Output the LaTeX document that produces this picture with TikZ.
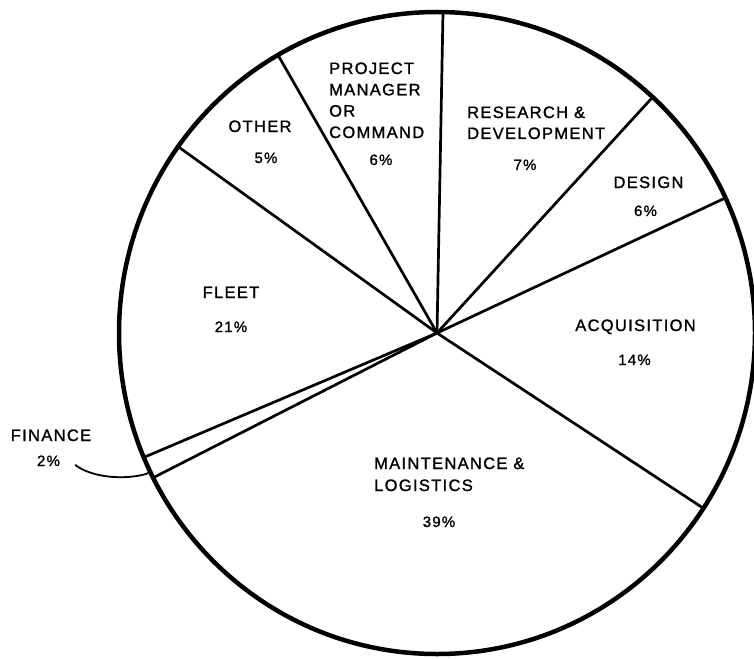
\documentclass[tikz,border=0pt]{standalone}
\usepackage{fontspec}
\setmainfont{Liberation Sans}[LetterSpace=8,FakeBold=1.3]
\begin{document}
\begin{tikzpicture}[x=1pt,y=-1pt,
  rim/.style={line width=4.5pt},
  spoke/.style={line width=2.7pt},
  lbl/.style={inner sep=0pt,anchor=base,font=\fontsize{16.5}{21}\selectfont},
  lblw/.style={inner sep=0pt,anchor=base west,font=\fontsize{16.5}{21}\selectfont},
  pct/.style={inner sep=0pt,anchor=base,font=\fontsize{15}{18}\selectfont}]
\useasboundingbox (0,0) rectangle (754,658);
\coordinate (c) at (437,333);
% boundary points
\coordinate (pPM) at (443,12);
\coordinate (pRD) at (652.7,97.1);
\coordinate (pDE) at (725.4,197.9);
\coordinate (pAQ) at (703.4,508.3);
\coordinate (pMA) at (153.2,477.7);
\coordinate (pFI) at (143.8,457.4);
\coordinate (pFL) at (178.1,146.6);
\coordinate (pOT) at (278,55);
% spokes
\draw[spoke] (c) -- (pPM);
\draw[spoke] (c) -- (pRD);
\draw[spoke] (c) -- (pDE);
\draw[spoke] (c) -- (pAQ);
\draw[spoke] (c) -- (pMA);
\draw[spoke] (c) -- (pFI);
\draw[spoke] (c) -- (pFL);
\draw[spoke] (c) -- (pOT);
% rim
\draw[rim] (c) ellipse [x radius=318, y radius=321];
% labels
\node[lbl] (fin) at (51,441) {FINANCE};
\node[pct] (finp) at (48.5,466) {2\%};
\node[lbl] (oth) at (260,132) {OTHER};
\node[pct] (othp) at (266,163) {5\%};
\node[lblw] (pm1) at (329,74) {PROJECT};
\node[lblw] (pm2) at (329,95.3) {MANAGER};
\node[lblw] (pm3) at (329,116.6) {OR};
\node[lblw] (pm4) at (329,138) {COMMAND};
\node[pct] (pmp) at (381,165) {6\%};
\node[lblw] (rd1) at (467,118) {RESEARCH \&};
\node[lblw] (rd2) at (467,139) {DEVELOPMENT};
\node[pct] (rdp) at (525,170) {7\%};
\node[lbl] (des) at (648.5,188) {DESIGN};
\node[pct] (desp) at (645.5,216) {6\%};
\node[lbl] (acq) at (635.5,331) {ACQUISITION};
\node[pct] (acqp) at (634.5,365) {14\%};
\node[lblw] (ma1) at (374,469) {MAINTENANCE \&};
\node[lblw] (ma2) at (374,491) {LOGISTICS};
\node[pct] (map) at (439,527) {39\%};
\node[lbl] (fle) at (231,298) {FLEET};
\node[pct] (flep) at (231,332) {21\%};
% finance pointer
\coordinate (fs) at ([xshift=15pt,yshift=-4pt]finp.east);
\coordinate (fe) at (152,470.5);
\draw[line width=1.8pt] (fs) .. controls (92,478) and (125,480) .. (146,474) -- (fe);
\end{tikzpicture}
\end{document}
